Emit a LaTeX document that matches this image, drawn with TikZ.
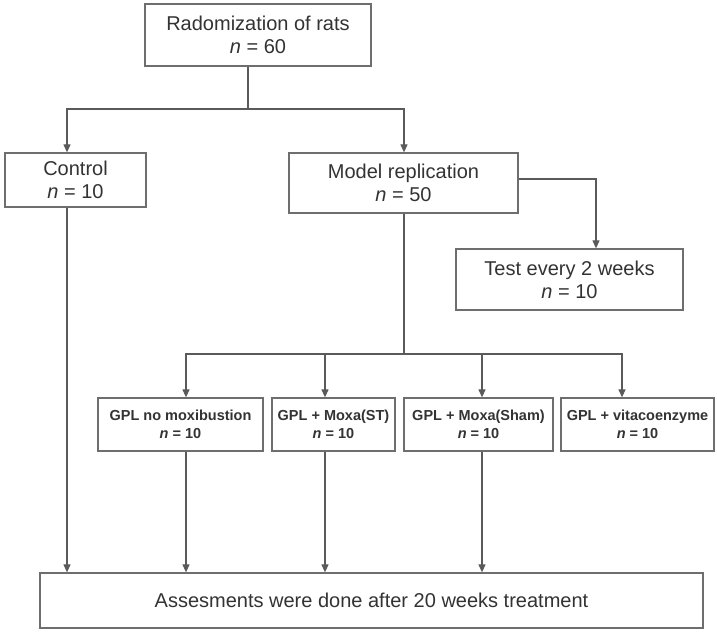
\documentclass[tikz,border=0pt]{standalone}
\usepackage{fontspec}
\setmainfont{Liberation Sans}
\usetikzlibrary{arrows.meta,calc}
\definecolor{linec}{HTML}{5A5A5A}
\definecolor{boxc}{HTML}{6E6E6E}
\definecolor{txtc}{HTML}{333333}
\tikzset{
  box/.style={draw=boxc, line width=1.3pt, fill=white, rectangle, inner sep=0pt, align=center, text=txtc, font=\fontsize{20}{23}\selectfont},
  sbox/.style={box, font=\bfseries\fontsize{14.5}{18}\selectfont, minimum height=53pt},
  conn/.style={draw=linec, line width=1.2pt},
  arr/.style={conn, -{Triangle[width=7pt,length=8pt]}}
}
\begin{document}
\begin{tikzpicture}[x=1pt,y=-1pt]
\useasboundingbox (0,0) rectangle (717,633);
\node[box, minimum width=226pt, minimum height=62pt] (top) at (258,35) {Radomization of rats\\\textit{n} = 60};
\node[box, minimum width=141pt, minimum height=54pt] (ctrl) at (75.5,180) {Control\\\textit{n} = 10};
\node[box, minimum width=229pt, minimum height=60pt] (model) at (403.5,183) {Model replication\\\textit{n} = 50};
\node[box, minimum width=227pt, minimum height=61pt] (test) at (569.5,279.5) {Test every 2 weeks\\\textit{n} = 10};
\node[sbox, minimum width=165pt] (g1) at (180.5,424.5) {GPL no moxibustion\\\textit{n} = 10};
\node[sbox, minimum width=123pt] (g2) at (333.5,424.5) {GPL + Moxa(ST)\\\textit{n} = 10};
\node[sbox, minimum width=149pt] (g3) at (478.5,424.5) {GPL + Moxa(Sham)\\\textit{n} = 10};
\node[sbox, minimum width=153pt] (g4) at (637.5,424.5) {GPL + vitacoenzyme\\\textit{n} = 10};
\node[box, minimum width=663pt, minimum height=55pt] (assess) at (371.5,600.5) {Assesments were done after 20 weeks treatment};
% top split
\coordinate (s1) at ([xshift=-10pt]top.south |- 0,109);
\draw[conn] ([xshift=-10pt]top.south) -- (s1);
\draw[arr] (s1) -| ([xshift=0.5pt]model.north);
\draw[arr] (s1) -| ([xshift=-8.5pt]ctrl.north);
% test
\draw[arr] ([yshift=4pt]model.east) -| ([xshift=26.5pt]test.north);
% groups split
\coordinate (s2) at ([xshift=0.5pt]model.south |- 0,354);
\draw[conn] ([xshift=0.5pt]model.south) -- (s2);
\draw[arr] (s2) -| ([xshift=5.5pt]g1.north);
\draw[arr] (s2) -| ([xshift=-8.5pt]g2.north);
\draw[arr] (s2) -| ([xshift=3.5pt]g3.north);
\draw[arr] (s2) -| ([xshift=-15.5pt]g4.north);
% to assessment
\draw[arr] ([xshift=-8.5pt]ctrl.south) -- ([xshift=-8.5pt]ctrl.south |- assess.north);
\draw[arr] ([xshift=5.5pt]g1.south) -- ([xshift=5.5pt]g1.south |- assess.north);
\draw[arr] ([xshift=-8.5pt]g2.south) -- ([xshift=-8.5pt]g2.south |- assess.north);
\draw[arr] ([xshift=3.5pt]g3.south) -- ([xshift=3.5pt]g3.south |- assess.north);
\end{tikzpicture}
\end{document}
